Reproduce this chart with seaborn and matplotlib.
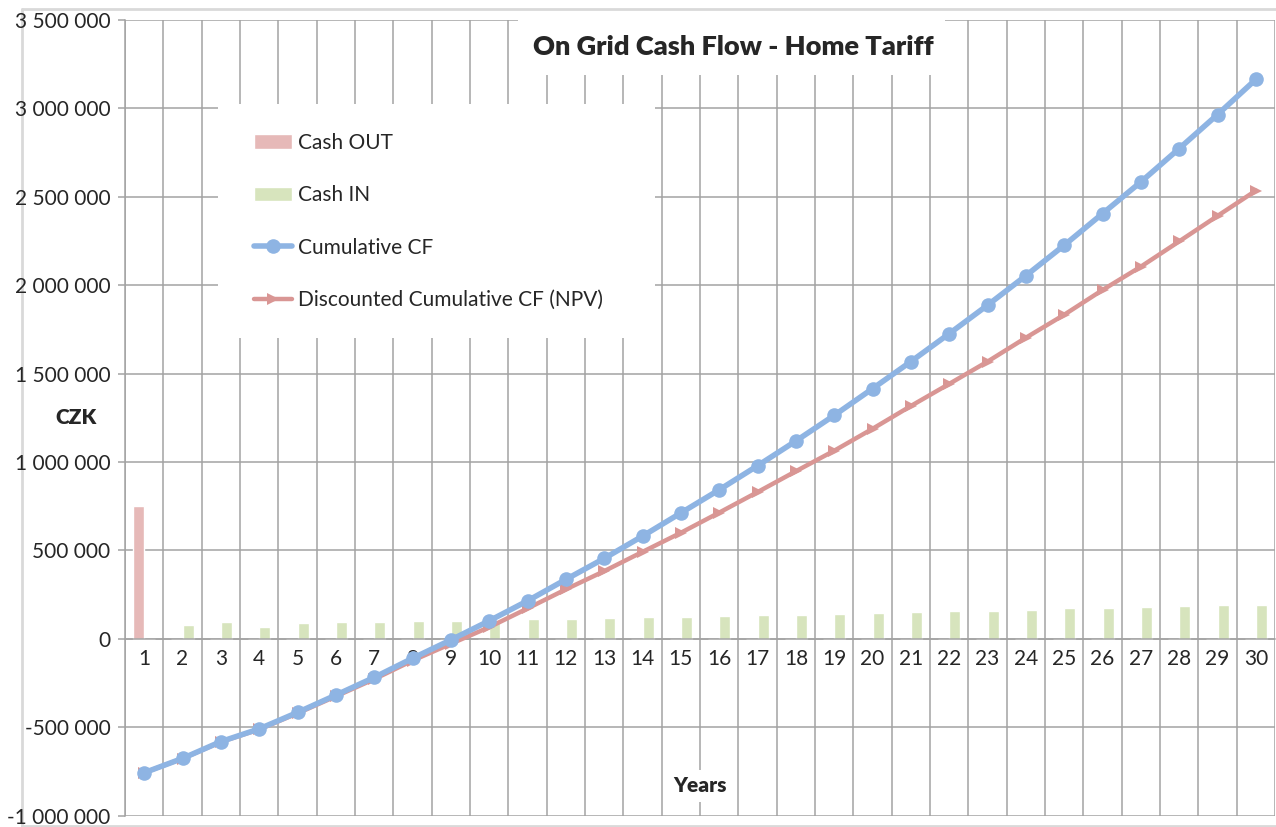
import matplotlib
matplotlib.use("Agg")
import matplotlib.pyplot as plt
from matplotlib.patches import Rectangle
from matplotlib.lines import Line2D
from matplotlib.ticker import FuncFormatter, MultipleLocator
import seaborn as sns
import numpy as np
import pandas as pd

# values (CZK)
years = list(range(1, 31))
cash_out = [752000] + [0] * 29
cash_in = [0, 81000, 96000, 70000, 92000, 96000, 96000, 103000, 103000, 106000,
           113000, 115000, 119000, 124000, 126000, 130000, 134000, 137000, 141000, 146000,
           152000, 155000, 160000, 166000, 172000, 177000, 183000, 188000, 190000, 194000]
cumulative_cf = [-757000, -676000, -581000, -509000, -416000, -318000, -218000, -110000, -6000, 102000,
                 215000, 336000, 455000, 581000, 712000, 843000, 979000, 1119000, 1264000, 1415000,
                 1568000, 1726000, 1887000, 2054000, 2226000, 2405000, 2584000, 2773000, 2965000, 3164000]
discounted_cf = [-757000, -677000, -583000, -512000, -421000, -325000, -228000, -123000, -28000, 66000,
                 172000, 280000, 383000, 492000, 600000, 714000, 830000, 948000, 1064000, 1188000,
                 1317000, 1442000, 1568000, 1703000, 1833000, 1973000, 2105000, 2248000, 2392000, 2535000]

W, H = 1276, 827


def px(x, y):
    """pixel position in the reference -> figure fraction"""
    return x / W, 1 - y / H


sns.set_style("white")
plt.rcParams['font.family'] = ['Lato', 'DejaVu Sans']

grid_col = '#a3a3a3'
fig = plt.figure(figsize=(W / 100, H / 100), dpi=100)
l, t = px(125, 20)
r, b = px(1275, 815.7)
ax = fig.add_axes([l, b, r - l, t - b])
ax.set_axisbelow(True)

bars = pd.DataFrame({
    'Year': years * 2,
    'Series': ['Cash OUT'] * len(years) + ['Cash IN'] * len(years),
    'Value': cash_out + cash_in,
})
sns.barplot(data=bars, x='Year', y='Value', hue='Series', hue_order=['Cash OUT', 'Cash IN'],
            palette=['#E6B9B8', '#D7E4BD'], saturation=1, width=0.58, errorbar=None,
            ax=ax, zorder=1)

pos = np.arange(len(years))
sns.lineplot(x=pos, y=cumulative_cf, color='#8EB4E3', linewidth=4, marker='o',
             markersize=10.5, markeredgewidth=0, label='Cumulative CF', ax=ax, zorder=4)
sns.lineplot(x=pos, y=discounted_cf, color='#D99694', linewidth=3.2, marker='>',
             markersize=8, markeredgewidth=0, label='Discounted Cumulative CF (NPV)', ax=ax, zorder=3)

ax.set_xlim(-0.5, len(years) - 0.5)
ax.set_ylim(-1000000, 3500000)
ax.yaxis.set_major_locator(MultipleLocator(500000))
ax.yaxis.set_major_formatter(FuncFormatter(lambda v, p: f"{v:,.0f}".replace(",", " ")))
ax.set_xticks(pos)
ax.set_xticklabels([str(y) for y in years])
ax.set_xticks(np.arange(-0.5, len(years)), minor=True)
ax.set_xlabel('')
ax.set_ylabel('')

ax.grid(False)
ax.grid(True, axis='y', which='major', color=grid_col, linewidth=1.1)
ax.grid(True, axis='x', which='minor', color=grid_col, linewidth=1.1)

ax.spines['bottom'].set_position(('data', 0))
for s in ['top', 'right']:
    ax.spines[s].set_visible(False)
for s in ['left', 'bottom']:
    ax.spines[s].set_color(grid_col)
    ax.spines[s].set_linewidth(1.1)

ax.tick_params(axis='x', which='major', length=0, pad=7, labelsize=15)
ax.tick_params(axis='x', which='minor', length=5, color=grid_col, direction='out')
ax.tick_params(axis='y', length=5, width=1.1, color=grid_col, pad=5.5, labelsize=15, left=True)

# white boxes over the grid: title, legend and axis title
ax.add_patch(Rectangle(px(518, 75), (945 - 518) / W, (75 - 20) / H, transform=fig.transFigure,
                       facecolor='white', edgecolor='none', zorder=2))
ax.add_patch(Rectangle(px(218, 338), (655 - 218) / W, (338 - 104) / H, transform=fig.transFigure,
                       facecolor='white', edgecolor='none', zorder=2))

fig.text(*px(733, 47), 'On Grid Cash Flow - Home Tariff', fontsize=19.5, fontweight='heavy',
         ha='center', va='center', zorder=6)
fig.text(*px(700, 786), 'Years', fontsize=15, fontweight='heavy', ha='center', va='center',
         bbox=dict(facecolor='white', edgecolor='none', pad=5), zorder=6)
fig.text(*px(76, 418), 'CZK', fontsize=15, fontweight='heavy', ha='center', va='center')

handles, labels = ax.get_legend_handles_labels()
order = ['Cash OUT', 'Cash IN', 'Cumulative CF', 'Discounted Cumulative CF (NPV)']
hmap = dict(zip(labels, handles))
leg = ax.legend([hmap[k] for k in order], order, loc='upper left',
                bbox_to_anchor=px(254, 133), bbox_transform=fig.transFigure,
                frameon=False, fontsize=15, borderpad=0, labelspacing=1.55,
                handlelength=1.83, handletextpad=0.3, borderaxespad=0)
leg.set_zorder(7)

# light outer chart border
border = '#d9d9d9'
fig.add_artist(Line2D([22 / W, 1], [1 - 9 / H, 1 - 9 / H], color=border, lw=2, transform=fig.transFigure))
fig.add_artist(Line2D([22 / W, 22 / W], [1 - 9 / H, 1 - 826 / H], color=border, lw=2, transform=fig.transFigure, zorder=0))
fig.add_artist(Line2D([22 / W, 1], [1 - 826 / H, 1 - 826 / H], color=border, lw=2, transform=fig.transFigure))

fig.savefig('out.png', dpi=100)
plt.close(fig)
print("Saved plot: out.png")
